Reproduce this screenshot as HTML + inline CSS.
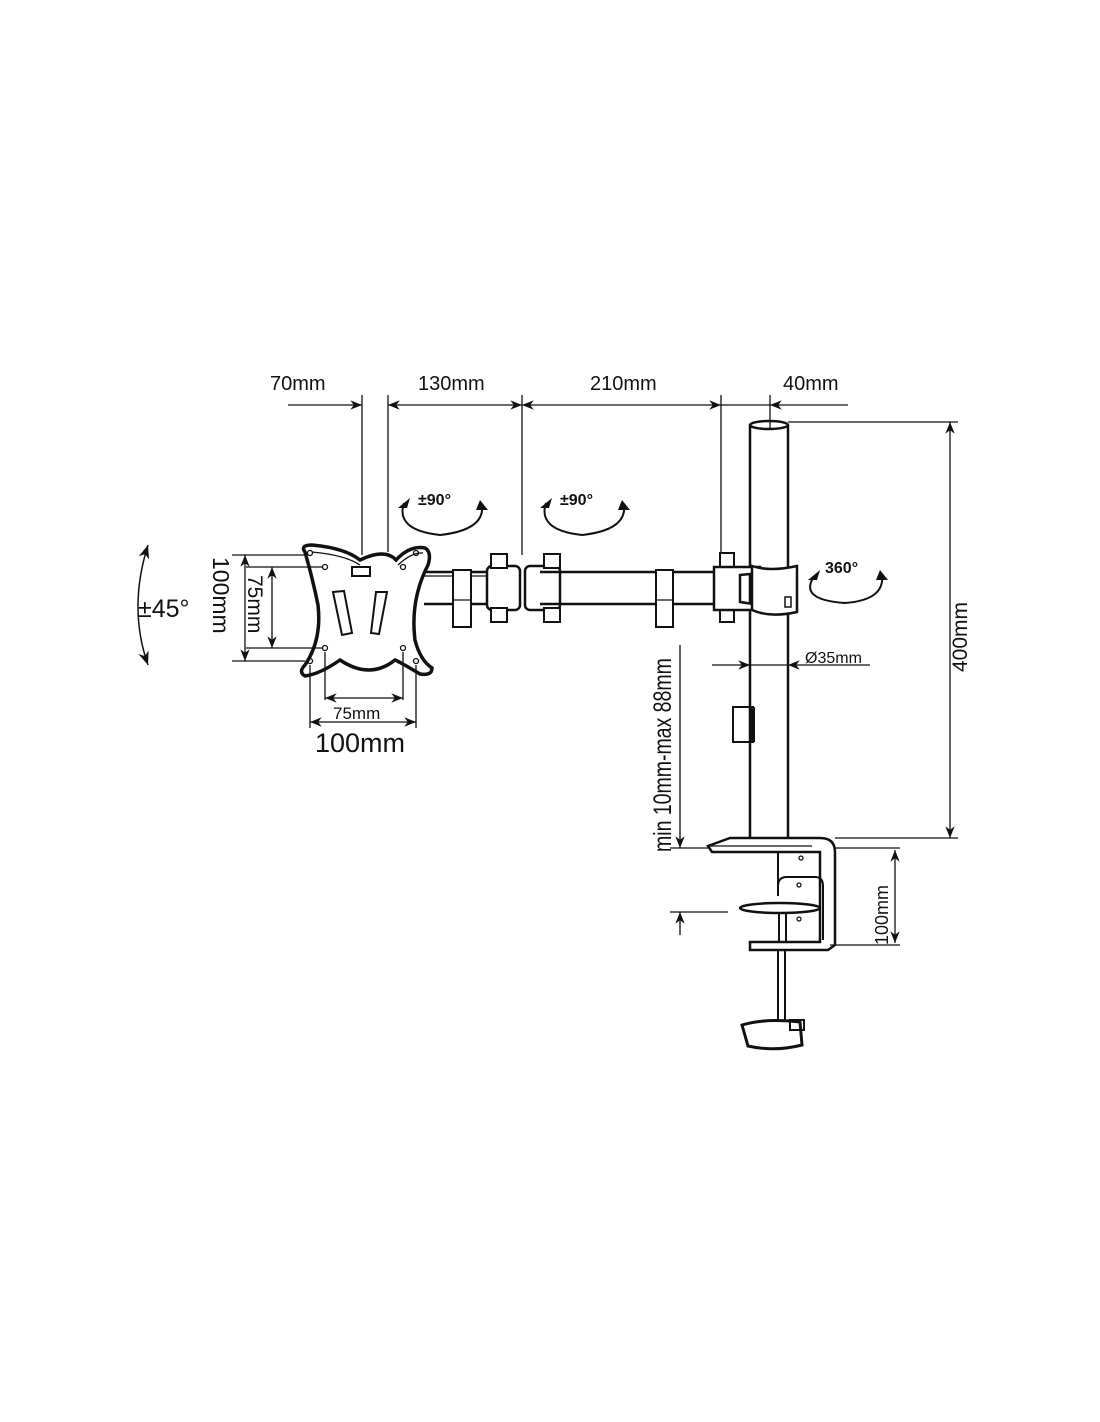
<!DOCTYPE html>
<html><head><meta charset="utf-8"><style>
html,body{margin:0;padding:0;background:#fff}
svg{display:block}
text{font-family:"Liberation Sans",sans-serif;fill:#111}
</style></head><body>
<svg width="1100" height="1422" viewBox="0 0 1100 1422" xmlns="http://www.w3.org/2000/svg">
<defs>
<marker id="a" viewBox="0 0 10 10" refX="10" refY="5" markerWidth="9" markerHeight="9" orient="auto-start-reverse"><path d="M0,1 L10,5 L0,9 L3,5z" fill="#111"/></marker>
</defs>
<g stroke="#111" stroke-width="1.3" fill="none">
<!-- top dims -->
<line x1="288" y1="405" x2="362" y2="405" marker-end="url(#a)"/>
<line x1="388" y1="405" x2="522" y2="405" marker-start="url(#a)" marker-end="url(#a)"/>
<line x1="522" y1="405" x2="721" y2="405" marker-start="url(#a)" marker-end="url(#a)"/>
<line x1="721" y1="405" x2="770" y2="405"/>
<line x1="848" y1="405" x2="770" y2="405" marker-end="url(#a)"/>
<line x1="362" y1="395" x2="362" y2="555"/>
<line x1="388" y1="395" x2="388" y2="552"/>
<line x1="522" y1="395" x2="522" y2="555"/>
<line x1="721" y1="395" x2="721" y2="555"/>
<line x1="770" y1="395" x2="770" y2="428"/>
<!-- 400mm -->
<line x1="788" y1="422" x2="958" y2="422"/>
<line x1="835" y1="838" x2="958" y2="838"/>
<line x1="950" y1="422" x2="950" y2="838" marker-start="url(#a)" marker-end="url(#a)"/>
<!-- pole -->
<line x1="750" y1="425" x2="750" y2="838" stroke-width="2.5"/>
<line x1="788" y1="425" x2="788" y2="838" stroke-width="2.5"/>
<ellipse cx="769" cy="425" rx="19" ry="4" stroke-width="2.5"/>
<!-- cable clip on pole -->
<rect x="733" y="707" width="20" height="35" stroke-width="2"/>
<line x1="753" y1="707" x2="753" y2="742" stroke-width="4"/>
<!-- Ø35 -->
<line x1="712" y1="665" x2="750" y2="665" marker-end="url(#a)"/>
<line x1="750" y1="665" x2="788" y2="665"/>
<line x1="870" y1="665" x2="788" y2="665" marker-end="url(#a)"/>
<!-- arm -->
<line x1="424" y1="572" x2="490" y2="572" stroke-width="2.5"/>
<line x1="424" y1="604" x2="490" y2="604" stroke-width="2.5"/>
<line x1="424" y1="576" x2="490" y2="576"/>
<rect x="453" y="570" width="18" height="57" stroke-width="2" fill="#fff"/>
<line x1="453" y1="600" x2="471" y2="600"/>
<rect x="487" y="566" width="33" height="44" rx="5" stroke-width="2.5" fill="#fff"/>
<rect x="525" y="566" width="35" height="44" rx="5" stroke-width="2.5" fill="#fff"/>
<rect x="491" y="554" width="16" height="14" stroke-width="2" fill="#fff"/>
<rect x="544" y="554" width="16" height="14" stroke-width="2" fill="#fff"/>
<rect x="491" y="608" width="16" height="14" stroke-width="2" fill="#fff"/>
<rect x="544" y="608" width="16" height="14" stroke-width="2" fill="#fff"/>
<line x1="540" y1="572" x2="740" y2="572" stroke-width="2.5"/>
<line x1="540" y1="604" x2="740" y2="604" stroke-width="2.5"/>
<rect x="656" y="570" width="17" height="57" stroke-width="2" fill="#fff"/>
<line x1="656" y1="600" x2="673" y2="600"/>
<rect x="720" y="553" width="14" height="14" stroke-width="2" fill="#fff"/>
<rect x="720" y="608" width="14" height="14" stroke-width="2" fill="#fff"/>
<path d="M714,567 L760,567 L760,573 L740,575 L740,602 L760,605 L760,610 L714,610z" stroke-width="2.5" fill="#fff"/>
<path d="M752,566 L752,610 Q770,618 797,612 L797,566 Q770,572 752,566z" stroke-width="2.5" fill="#fff"/>
<rect x="785" y="597" width="6" height="10" stroke-width="1.5"/>
<!-- rotation arcs -->
<path d="M404,503 Q395,530 440,535 Q485,530 482,505" stroke-width="2"/>
<path d="M546,503 Q537,530 582,535 Q627,530 624,505" stroke-width="2"/>
<path d="M813,578 Q800,600 845,603 Q885,600 882,575" stroke-width="2"/>
<path d="M148,545 Q128,608 148,665" stroke-width="1.5" marker-start="url(#a)" marker-end="url(#a)"/>
<!-- VESA plate -->
<path d="M305,552 Q300,545 312,545 Q345,548 360,560 Q385,548 396,560 Q410,545 425,548 Q432,552 428,565 Q410,600 415,640 Q420,660 432,668 Q432,676 420,674 Q400,662 395,660 Q370,680 340,660 Q320,674 305,676 Q298,672 305,665 Q322,640 318,605 Q313,580 305,552z" stroke-width="3.5" fill="#fff"/>
<path d="M312,552 Q345,555 360,565 M398,565 Q412,552 423,553" stroke-width="1.3"/>
<rect x="352" y="567" width="18" height="9" stroke-width="2"/>
<path d="M333,592 L344,591 L352,633 L342,635z" stroke-width="2"/>
<path d="M387,592 L376,592 L371,633 L379,634z" stroke-width="2"/>
<circle cx="310" cy="553" r="2.5"/><circle cx="325" cy="567" r="2.5"/>
<circle cx="416" cy="553" r="2.5"/><circle cx="403" cy="567" r="2.5"/>
<circle cx="325" cy="648" r="2.5"/><circle cx="403" cy="648" r="2.5"/>
<circle cx="310" cy="661" r="2.5"/><circle cx="416" cy="661" r="2.5"/>
<!-- plate dims -->
<line x1="232" y1="555" x2="305" y2="555"/>
<line x1="232" y1="661" x2="305" y2="661"/>
<line x1="246" y1="567" x2="322" y2="567"/>
<line x1="246" y1="648" x2="322" y2="648"/>
<line x1="245" y1="555" x2="245" y2="661" marker-start="url(#a)" marker-end="url(#a)"/>
<line x1="272" y1="567" x2="272" y2="648" marker-start="url(#a)" marker-end="url(#a)"/>
<line x1="310" y1="665" x2="310" y2="728"/>
<line x1="416" y1="665" x2="416" y2="728"/>
<line x1="325" y1="652" x2="325" y2="700"/>
<line x1="403" y1="652" x2="403" y2="700"/>
<line x1="325" y1="698" x2="403" y2="698" marker-start="url(#a)" marker-end="url(#a)"/>
<line x1="310" y1="722" x2="416" y2="722" marker-start="url(#a)" marker-end="url(#a)"/>
<!-- clamp -->
<path d="M708,846 L730,838 L820,838 Q835,838 835,852 L835,945 L828,950 L750,950 L750,942 L820,942 L820,852 L712,852z" stroke-width="2.5" fill="#fff"/>
<line x1="708" y1="846" x2="812" y2="846"/>
<path d="M778,852 L778,896 M778,886 Q778,877 787,877 L815,877 Q823,877 823,886 L823,940" stroke-width="2"/>
<ellipse cx="780" cy="908" rx="40" ry="5" stroke-width="2.5" fill="#fff"/>
<line x1="779" y1="913" x2="779" y2="942" stroke-width="2"/>
<line x1="786" y1="913" x2="786" y2="942" stroke-width="2"/>
<circle cx="801" cy="858" r="2"/><circle cx="799" cy="885" r="2"/><circle cx="799" cy="919" r="2"/>
<line x1="778" y1="950" x2="778" y2="1020" stroke-width="2"/>
<line x1="785" y1="950" x2="785" y2="1020" stroke-width="2"/>
<path d="M742,1025 Q765,1018 800,1022 L802,1045 Q775,1052 748,1046z" stroke-width="3" fill="#fff"/>
<rect x="790" y="1020" width="14" height="10" stroke-width="2"/>
<!-- min/max dim -->
<line x1="680" y1="645" x2="680" y2="848" marker-end="url(#a)"/>
<line x1="680" y1="935" x2="680" y2="912" marker-end="url(#a)"/>
<line x1="670" y1="848" x2="708" y2="848"/>
<line x1="670" y1="912" x2="728" y2="912"/>
<!-- 100mm clamp -->
<line x1="835" y1="848" x2="900" y2="848"/>
<line x1="830" y1="945" x2="900" y2="945"/>
<line x1="895" y1="850" x2="895" y2="943" marker-start="url(#a)" marker-end="url(#a)"/>
</g>
<g fill="#111">
<path d="M398,508 l12,-10 l-3,10z"/><path d="M480,500 l8,10 l-12,0z"/>
<path d="M540,508 l12,-10 l-3,10z"/><path d="M622,500 l8,10 l-12,0z"/>
<path d="M808,580 l12,-10 l-3,10z"/><path d="M880,570 l8,10 l-12,0z"/>
</g>
<text x="270" y="390" font-size="20">70mm</text>
<text x="418" y="390" font-size="20">130mm</text>
<text x="590" y="390" font-size="20">210mm</text>
<text x="783" y="390" font-size="20">40mm</text>
<text x="418" y="505" font-size="16" font-weight="bold">±90°</text>
<text x="560" y="505" font-size="16" font-weight="bold">±90°</text>
<text x="825" y="573" font-size="16" font-weight="bold">360°</text>
<text x="805" y="663" font-size="16">Ø35mm</text>
<text x="138" y="617" font-size="25">±45°</text>
<text x="315" y="752" font-size="27">100mm</text>
<text x="333" y="719" font-size="17">75mm</text>
<text transform="translate(213,557) rotate(90)" font-size="23">100mm</text>
<text transform="translate(248,575) rotate(90)" font-size="21">75mm</text>
<text transform="translate(967,672) rotate(-90)" font-size="21">400mm</text>
<text transform="translate(888,945) rotate(-90)" font-size="18">100mm</text>
<text transform="translate(671,852) rotate(-90) scale(0.78,1)" font-size="25">min 10mm-max 88mm</text>
</svg>
</body></html>
